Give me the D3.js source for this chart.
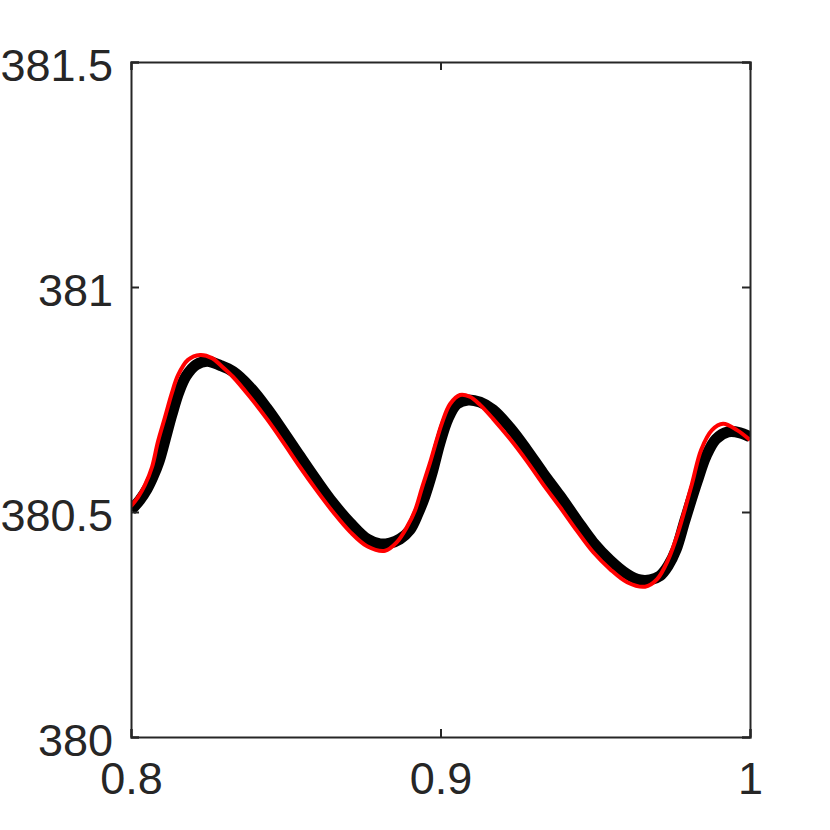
<!DOCTYPE html>
<html>
<head>
<meta charset="utf-8">
<script src="https://cdn.jsdelivr.net/npm/d3@7"></script>
<style>
  body { margin: 0; background: #fff; }
  text { font-family: "Liberation Sans", Arial, Helvetica, sans-serif; fill: #262626; }
</style>
</head>
<body>
<div id="chart"></div>
<script>
// Data
const xTicks = [0.8, 0.9, 1]
const yTicks = [380, 380.5, 381, 381.5]

// black ensemble band (centre)
const blackX = [0.8000, 0.8029, 0.8052, 0.8071, 0.8090, 0.8110, 0.8132, 0.8155, 0.8178, 0.8210,
  0.8246, 0.8288, 0.8330, 0.8384, 0.8439, 0.8491, 0.8546, 0.8601, 0.8653, 0.8708,
  0.8763, 0.8805, 0.8837, 0.8869, 0.8901, 0.8927, 0.8950, 0.8973, 0.8998, 0.9024,
  0.9053, 0.9089, 0.9128, 0.9170, 0.9225, 0.9279, 0.9331, 0.9386, 0.9441, 0.9493,
  0.9548, 0.9603, 0.9645, 0.9677, 0.9709, 0.9735, 0.9761, 0.9790, 0.9829, 0.9858,
  0.9890, 0.9929, 0.9968, 1.0000]
const blackY = [380.504, 380.527, 380.551, 380.578, 380.611, 380.660, 380.716, 380.767, 380.802, 380.827,
  380.835, 380.826, 380.812, 380.778, 380.731, 380.680, 380.624, 380.569, 380.520, 380.476,
  380.440, 380.429, 380.431, 380.440, 380.460, 380.496, 380.536, 380.587, 380.653, 380.707,
  380.740, 380.749, 380.744, 380.727, 380.687, 380.638, 380.587, 380.536, 380.482, 380.433,
  380.393, 380.362, 380.349, 380.349, 380.358, 380.380, 380.416, 380.482, 380.567, 380.624,
  380.662, 380.678, 380.676, 380.667]

// red line
const redX = [0.8000, 0.8023, 0.8045, 0.8068, 0.8087, 0.8110, 0.8132, 0.8152, 0.8184, 0.8223,
  0.8262, 0.8288, 0.8330, 0.8384, 0.8439, 0.8491, 0.8546, 0.8601, 0.8653, 0.8708,
  0.8763, 0.8821, 0.8859, 0.8892, 0.8918, 0.8940, 0.8966, 0.9005, 0.9031, 0.9063,
  0.9095, 0.9128, 0.9170, 0.9225, 0.9279, 0.9331, 0.9386, 0.9441, 0.9493, 0.9548,
  0.9603, 0.9661, 0.9700, 0.9735, 0.9767, 0.9813, 0.9842, 0.9877, 0.9913, 0.9958,
  1.0000]
const redY = [380.513, 380.533, 380.560, 380.600, 380.656, 380.711, 380.764, 380.804, 380.838, 380.849,
  380.842, 380.827, 380.800, 380.756, 380.707, 380.656, 380.600, 380.547, 380.500, 380.456,
  380.424, 380.414, 380.433, 380.467, 380.504, 380.553, 380.609, 380.698, 380.740, 380.760,
  380.756, 380.738, 380.707, 380.662, 380.613, 380.562, 380.511, 380.458, 380.411, 380.373,
  380.344, 380.334, 380.351, 380.393, 380.453, 380.564, 380.638, 380.682, 380.696, 380.682,
  380.660]

// Create SVG
const svg = d3.select('#chart').append('svg')
  .attr('width', 830)
  .attr('height', 830)

const margin = {top: 62, bottom: 93, left: 131, right: 80}
const graphWidth = 830 - margin.left - margin.right
const graphHeight = 830 - margin.top - margin.bottom

const g = svg.append('g')
  .attr('transform', `translate(${margin.left}, ${margin.top})`)

// Scales
const x = d3.scaleLinear().domain([0.8, 1]).range([0, graphWidth])
const y = d3.scaleLinear().domain([380, 381.5]).range([graphHeight, 0])

// Clip to plot area
g.append('clipPath').attr('id', 'clip')
  .append('rect').attr('width', graphWidth).attr('height', graphHeight)

const line = d3.line()
  .x((d) => x(d[0]))
  .y((d) => y(d[1]))
  .curve(d3.curveCatmullRom.alpha(0.5))

const plot = g.append('g').attr('clip-path', 'url(#clip)')

plot.append('path')
  .datum(blackX.map((v, i) => [v, blackY[i]]))
  .attr('d', line)
  .attr('fill', 'none')
  .attr('stroke', '#000')
  .attr('stroke-width', 11)
  .attr('stroke-linejoin', 'round')

plot.append('path')
  .datum(redX.map((v, i) => [v, redY[i]]))
  .attr('d', line)
  .attr('fill', 'none')
  .attr('stroke', '#ff0000')
  .attr('stroke-width', 4)
  .attr('stroke-linejoin', 'round')

// Axes (MATLAB style box with inward ticks)
const tickLen = 8
const axisColor = '#262626'

const xAxis = d3.axisBottom(x).tickValues(xTicks).tickSize(-tickLen).tickPadding(22)
  .tickFormat((d) => d3.format('')(d))
const yAxis = d3.axisLeft(y).tickValues(yTicks).tickSize(-tickLen).tickPadding(18)
  .tickFormat((d) => d3.format('')(d))
const xAxisTop = d3.axisTop(x).tickValues(xTicks).tickSize(-tickLen).tickFormat('')
const yAxisRight = d3.axisRight(y).tickValues(yTicks).tickSize(-tickLen).tickFormat('')

const xg = g.append('g').attr('transform', `translate(0, ${graphHeight})`).call(xAxis)
const yg = g.append('g').call(yAxis)
const xtg = g.append('g').call(xAxisTop)
const yrg = g.append('g').attr('transform', `translate(${graphWidth}, 0)`).call(yAxisRight)

;[xg, yg, xtg, yrg].forEach((a) => {
  a.select('.domain').attr('stroke', axisColor).attr('stroke-width', 2)
  a.selectAll('.tick line').attr('stroke', axisColor).attr('stroke-width', 2)
})

// Text adjustments
svg.selectAll('.tick text')
  .attr('font-size', '45px')
  .attr('fill', axisColor)
  .attr('font-family', '"Liberation Sans", Arial, Helvetica, sans-serif')

yg.selectAll('.tick text').attr('dy', '0.4em')
xg.selectAll('.tick text').attr('dy', '0.78em')
</script>
</body>
</html>
